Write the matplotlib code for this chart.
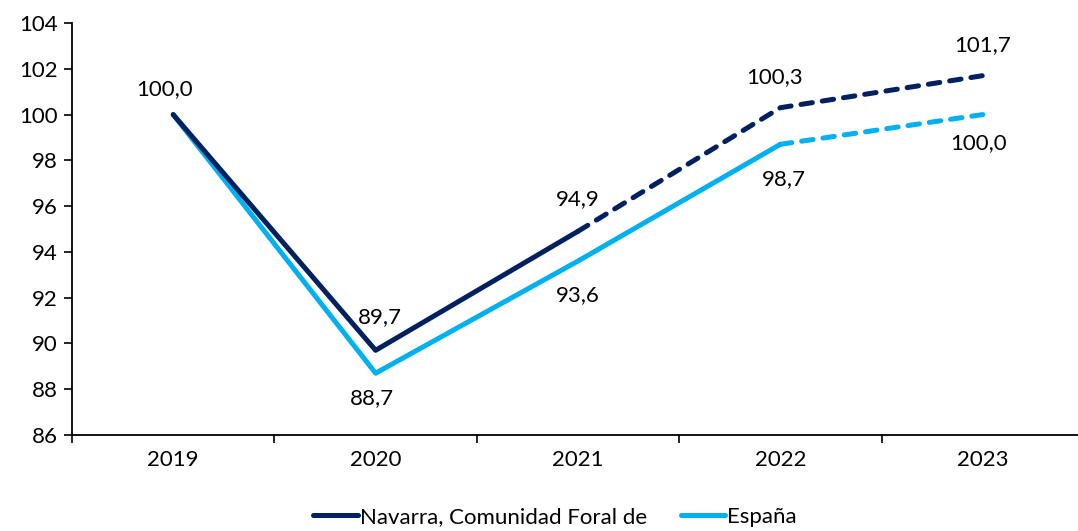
import matplotlib
matplotlib.use("Agg")
import matplotlib.pyplot as plt

plt.rcParams['font.family'] = ['Lato', 'DejaVu Sans']

# data
years = ['2019', '2020', '2021', '2022', '2023']
navarra = [100.0, 89.7, 94.9, 100.3, 101.7]
espana = [100.0, 88.7, 93.6, 98.7, 100.0]
navarra_last_solid = 2   # index where the dashed (forecast) part starts
espana_last_solid = 3

navy = '#002060'
light = '#00B0F0'
fs = 16

fig = plt.figure(figsize=(10.78, 5.31), dpi=100)
ax = fig.add_axes([72 / 1078, 96 / 531, 1012 / 1078, 412 / 531])

x = list(range(len(years)))
lw = 3.6
dash = (2.3, 2.0)

# solid parts
ax.plot(x[:espana_last_solid + 1], espana[:espana_last_solid + 1], color=light, lw=lw,
        solid_capstyle='round', solid_joinstyle='round', label='España', zorder=2)
ax.plot(x[:navarra_last_solid + 1], navarra[:navarra_last_solid + 1], color=navy, lw=lw,
        solid_capstyle='round', solid_joinstyle='round', label='Navarra, Comunidad Foral de', zorder=3)
# dashed parts
ax.plot(x[espana_last_solid:], espana[espana_last_solid:], color=light, lw=lw,
        dashes=dash, dash_capstyle='round', zorder=2)
ax.plot(x[navarra_last_solid:], navarra[navarra_last_solid:], color=navy, lw=lw,
        dashes=dash, dash_capstyle='round', zorder=3)

fmt = lambda v: f'{v:.1f}'.replace('.', ',')

# label offsets in pixels (dx, dy), y up
nav_off = [(-9, 25), (4, 33), (0, 32), (-6, 31), (0, 31)]
esp_off = [None, (-4, -25), (0, -34), (3, -35), (-4, -29)]

for i, v in enumerate(navarra):
    dx, dy = nav_off[i]
    ax.annotate(fmt(v), (x[i], v), xytext=(dx, dy), textcoords='offset pixels',
                ha='center', va='center', fontsize=fs, color='black')
for i, v in enumerate(espana):
    if esp_off[i] is None:
        continue
    dx, dy = esp_off[i]
    ax.annotate(fmt(v), (x[i], v), xytext=(dx, dy), textcoords='offset pixels',
                ha='center', va='center', fontsize=fs, color='black')

ax.set_xlim(-0.5, 4.5)
ax.set_ylim(86, 104)
ax.set_yticks(range(86, 105, 2))
ax.set_yticklabels([str(t) for t in range(86, 105, 2)], fontsize=fs)
ax.set_xticks([i - 0.5 for i in range(len(years))])
ax.set_xticklabels([])
ax.set_xticks(x, minor=True)
ax.set_xticklabels(years, minor=True, fontsize=fs)
ax.tick_params(axis='x', which='minor', length=0, pad=11)
ax.tick_params(axis='x', which='major', length=6, width=1.2, direction='out')
ax.tick_params(axis='y', length=6, width=1.2, direction='out', pad=4)

for s in ['top', 'right']:
    ax.spines[s].set_visible(False)
for s in ['left', 'bottom']:
    ax.spines[s].set_linewidth(1.3)
    ax.spines[s].set_color('black')

h, l = ax.get_legend_handles_labels()
fig.legend(h[::-1], l[::-1], loc='center', bbox_to_anchor=(0.515, 14 / 531),
           ncol=2, frameon=False, fontsize=fs, handlelength=2.0, handletextpad=0.1,
           columnspacing=1.5)

fig.savefig('out.png', dpi=100)
